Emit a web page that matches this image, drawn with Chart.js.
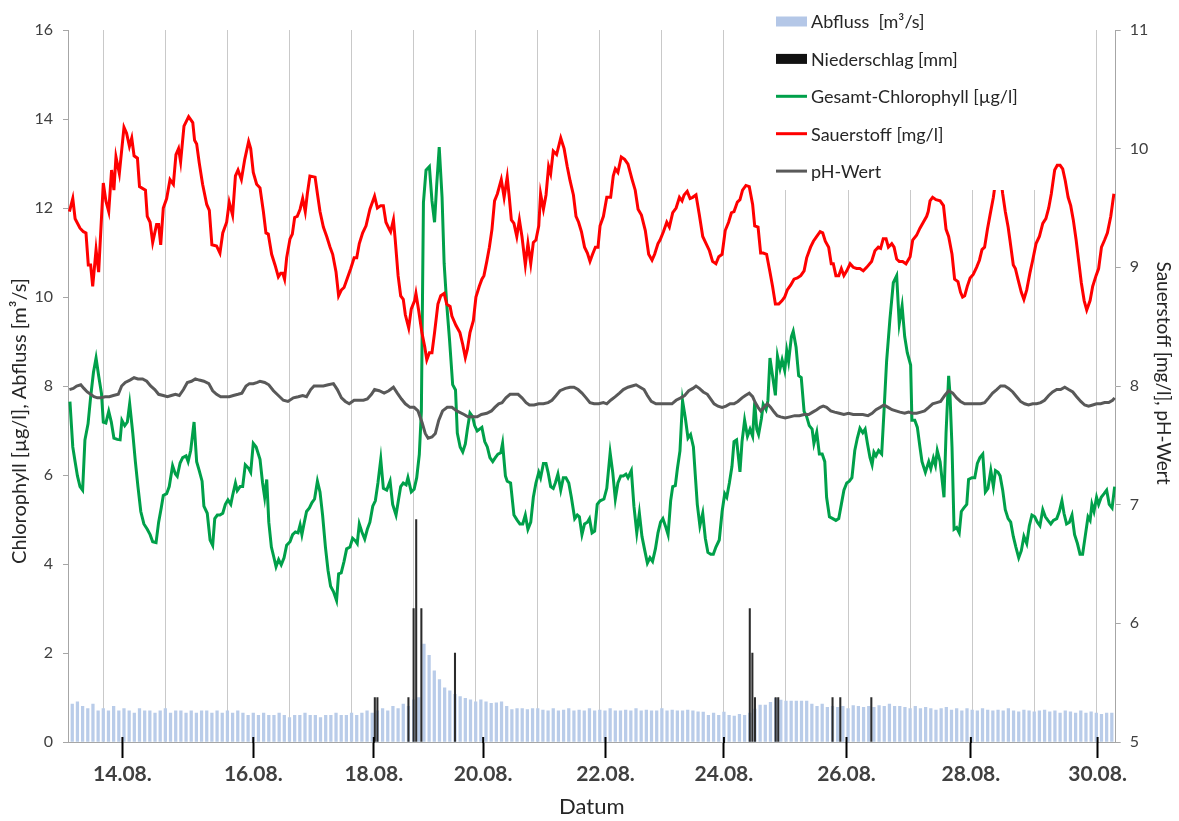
<!DOCTYPE html>
<html lang="de">
<head>
<meta charset="utf-8">
<title>Chlorophyll, Sauerstoff, pH</title>
<script src="https://cdn.jsdelivr.net/npm/chart.js@4.4.1/dist/chart.umd.min.js"></script>
<style>
  html, body { margin: 0; padding: 0; background: #fff; }
</style>
</head>
<body>
<canvas id="chemChart" width="1179" height="821"></canvas>
<script>
// --- Data (x = Stunden ab 13.08. 00:00) ---

const xMin = 10.35;
const xMax = 415.5;

const dateLabels = ['14.08.', '16.08.', '18.08.', '20.08.', '22.08.', '24.08.', '26.08.', '28.08.', '30.08.'];
const dateTicks = [31.4, 82.0, 128.6, 170.9, 218.2, 264.0, 311.4, 359.5, 408.5];
const dayLines = [24, 48, 72, 96, 120, 144, 168, 192, 216, 240, 264, 288, 312, 336, 360, 384, 408];

// Abfluss, every 2 hours from hour 12
const abflussFirstHour = 12;
const abflussStepHours = 2;
const abflussValues = [
  0.85,0.9,0.8,0.75,0.85,0.7,0.75,0.7,0.8,0.7,0.75,0.7,0.65,0.75,0.7,0.7,0.65,0.7,0.75,0.65,0.7,0.7,0.65,0.7,0.65,0.7,0.7,0.65,0.7,0.65,0.7,
  0.65,0.7,0.65,0.6,0.65,0.6,0.65,0.6,0.6,0.65,0.6,0.55,0.6,0.6,0.65,0.6,0.6,0.55,0.6,0.6,0.65,0.6,0.6,0.65,0.6,0.65,
  0.7,0.65,0.7,0.75,0.7,0.8,0.75,0.85,0.8,0.95,
  1.0,2.2,1.95,1.6,1.4,1.22,1.15,1.07,1.02,0.98,0.95,0.9,0.95,0.9,0.87,0.88,0.9,0.8,0.73,0.75,0.75,0.73,0.75,
  0.75,0.72,0.7,0.75,0.7,0.72,0.75,0.7,0.72,0.7,0.75,0.7,0.72,0.7,0.75,0.7,0.7,0.72,0.7,0.75,0.7,0.72,0.7,0.7,0.75,0.7,0.72,0.7,0.7,0.72,0.7,0.68,
  0.67,0.6,0.65,0.6,0.67,0.6,0.58,0.62,0.6,0.65,
  0.74,0.83,0.83,0.89,0.98,0.94,0.92,0.92,0.92,0.92,0.92,0.85,0.8,0.85,0.78,0.8,0.78,0.8,0.75,0.82,0.8,0.78,0.8,0.78,0.82,0.8,0.85,0.8,
  0.8,0.78,0.75,0.8,0.75,0.78,0.75,0.72,0.75,0.78,0.72,0.75,0.7,0.75,0.72,0.7,0.75,0.72,0.7,0.72,0.7,0.75,0.7,0.68,0.72,0.7,0.68,0.7,0.72,0.68,0.7,0.65,0.7,0.68,0.65,0.7,0.65,0.68,0.65,0.62,0.65,0.65
];

const niederHours = [129, 130, 142, 144, 145, 147, 160, 274, 275, 276, 284, 285, 306, 309, 321];
const niederValues = [1, 1, 1, 3, 5, 3, 2, 3, 2, 1, 1, 1, 1, 1, 1];

// [hour, value]
const chlPoints = [
  [11.1,7.65],[12.2,6.63],[13.1,6.30],[14.0,5.98],[15.0,5.74],[16.0,5.66],[16.9,6.79],[18.1,7.15],[19.1,7.75],[20.2,8.31],[21.2,8.63],[22.2,8.23],[23.3,7.83],[24.0,7.19],[25.0,7.17],[26.1,7.43],[27.1,7.19],[28.1,6.83],[29.4,6.80],[30.5,6.79],[31.2,7.23],[32.3,7.11],[33.3,7.19],[34.2,7.60],[35.4,6.94],[36.4,6.30],[37.4,5.74],[38.5,5.18],[39.7,4.90],[41.0,4.78],[42.1,4.66],[43.1,4.50],[44.4,4.48],[45.4,4.94],[46.4,5.26],[47.2,5.54],[48.5,5.58],[49.5,5.74],[50.8,6.21],[51.9,6.02],[52.6,5.97],[53.7,6.27],[54.7,6.39],[56.0,6.43],[56.8,6.30],[57.8,6.55],[59.1,7.19],[60.1,6.30],[61.1,6.10],[62.2,5.86],[62.9,5.30],[64.2,5.14],[65.3,4.54],[66.3,4.42],[67.1,5.02],[68.1,5.10],[69.1,5.10],[70.2,5.14],[71.2,5.34],[72.2,5.44],[73.3,5.34],[74.0,5.54],[75.1,5.82],[75.8,5.65],[76.9,5.74],[77.9,5.74],[78.9,6.23],[80.2,6.15],[81.0,6.06],[82.0,6.71],[83.1,6.63],
  [84.6,6.35],[85.6,5.82],[86.4,5.50],[87.2,5.90],[88.0,4.94],[89.0,4.38],[90.0,4.14],[90.8,3.94],[91.8,4.10],[92.8,3.98],[93.9,4.14],[94.9,4.42],[96.2,4.50],[97.2,4.66],[98.3,4.72],[99.3,4.70],[100.1,4.88],[100.8,4.66],[101.6,4.90],[102.6,5.18],[103.7,5.26],[104.7,5.38],[105.7,5.46],[106.8,5.86],[107.8,5.62],[108.8,5.10],[109.9,4.38],[110.9,3.86],[111.9,3.50],[113.0,3.38],[114.2,3.18],[115.0,3.78],[116.0,3.80],[117.1,4.06],[118.1,4.34],[119.4,4.38],[120.4,4.58],[121.5,4.52],[122.2,4.46],[123.0,4.90],[124.0,4.72],[125.1,4.56],[126.1,4.78],[127.1,4.94],[128.2,5.30],[129.2,5.42],[130.2,5.82],[131.3,6.35],[132.3,5.70],[133.6,5.66],[134.9,5.86],[135.9,5.34],[137.2,5.10],[138.2,5.46],[139.0,5.74],[140.0,5.82],[141.1,5.78],[141.8,5.94],[143.1,5.62],[144.2,5.68],[145.2,5.94],[146.2,6.46],[147.0,7.43],[147.8,12.12],[148.8,12.85],[150.1,12.93],[151.1,12.16],[152.1,11.68],[152.9,12.49],[153.9,13.37],[155.0,12.24],[155.8,10.76],[156.8,9.84],[157.9,9.03],[159.1,8.03],[160.2,7.91],[160.9,6.94],
  [162.0,6.63],[163.0,6.52],[164.0,6.70],[164.8,7.03],[165.8,7.39],[166.8,7.31],[167.6,7.11],[168.6,6.99],[170.4,7.07],[171.5,6.75],[172.5,6.63],[173.5,6.39],[174.6,6.30],[175.6,6.39],[176.6,6.47],[177.7,6.50],[178.4,6.71],[179.5,5.98],[180.2,5.86],[181.5,5.82],[182.8,5.10],[184.1,4.98],[185.1,4.90],[186.2,4.90],[187.2,5.10],[188.2,4.78],[189.3,4.94],[190.3,5.50],[191.3,5.82],[192.4,6.06],[193.1,5.94],[194.2,6.26],[195.2,6.26],[196.0,6.06],[197.0,5.74],[198.0,5.70],[198.8,5.82],[199.8,6.02],[200.9,5.66],[201.9,5.94],[202.9,5.94],[204.0,5.82],[205.0,5.50],[206.3,5.02],[207.3,5.10],[208.1,5.06],[209.1,4.66],[210.1,4.90],[211.2,4.94],[212.0,5.02],[213.0,4.70],[214.0,4.74],[215.0,5.34],[216.1,5.42],[217.6,5.46],[218.7,5.70],[220.0,6.50],[221.0,6.06],[222.0,5.46],[223.0,5.82],[224.1,5.98],[225.1,5.98],[226.1,6.02],[226.9,5.94],[228.2,6.10],[229.2,5.30],[230.3,4.70],[231.3,5.14],[232.3,4.62],[233.4,4.30],[234.4,4.02],[235.4,4.14],[236.4,4.06],[237.5,4.34],[238.5,4.70],
  [239.5,4.94],[240.4,5.02],[241.4,4.85],[242.4,4.66],[243.4,5.42],[244.2,5.74],[245.2,5.76],[246.0,6.14],[247.0,6.54],[248.0,7.67],[249.1,7.27],[250.1,6.83],[251.1,6.91],[252.2,6.63],[252.9,6.02],[253.7,5.34],[254.7,4.86],[255.8,5.14],[256.8,4.58],[257.8,4.26],[258.9,4.22],[259.9,4.22],[260.9,4.38],[262.2,4.54],[263.3,5.18],[264.3,5.58],[265.1,5.50],[266.1,5.82],[267.1,6.19],[267.9,6.75],[268.9,6.79],[270.2,6.07],[271.0,6.75],[272.0,7.23],[273.1,6.87],[274.1,7.03],[275.1,6.87],[275.9,7.63],[276.7,7.03],[277.4,6.91],[278.5,7.27],[279.2,7.59],[280.3,7.47],[281.0,7.67],[281.8,8.63],[282.8,8.23],[283.9,7.79],[284.7,8.67],[285.7,8.39],[286.5,8.59],[287.5,8.35],[288.3,8.79],[289.0,8.55],[290.1,9.11],[290.8,9.23],[291.9,8.87],[292.9,8.23],[293.9,8.19],[295.0,7.43],[296.0,7.31],[297.0,7.11],[298.1,7.03],[298.8,6.71],[299.9,6.96],[300.9,6.47],[302.0,6.47],[303.0,6.30],[303.7,5.50],[304.8,5.06],[306.1,5.02],[307.3,4.98],[308.4,5.02],[309.4,5.34],[310.4,5.66],[311.5,5.82],[312.5,5.86],[313.5,5.94],[314.6,6.55],[315.6,6.83],
  [316.6,7.05],[317.7,6.95],[318.6,7.03],[319.5,6.71],[320.5,6.39],[321.3,6.23],[322.0,6.51],[322.8,6.43],[323.8,6.55],[325.0,6.47],[325.9,7.43],[326.9,8.55],[328.2,9.51],[329.5,10.32],[330.8,10.48],[331.8,9.40],[332.9,9.80],[333.9,9.11],[334.9,8.75],[336.2,8.47],[336.7,7.23],[337.8,7.23],[338.8,7.07],[339.8,6.63],[340.6,6.30],[341.9,6.06],[343.2,6.30],[344.0,6.14],[345.0,6.38],[345.8,6.22],[346.5,6.55],[347.6,6.30],[349.1,5.50],[349.9,6.95],[350.9,8.23],[351.4,7.83],[352.2,6.63],[353.0,4.78],[354.0,4.82],[355.0,4.70],[355.8,5.18],[356.8,5.26],[357.9,5.34],[358.6,5.90],[359.9,5.94],[361.0,5.94],[362.0,6.26],[363.0,6.39],[364.1,6.47],[365.1,5.62],[366.1,5.70],[367.2,6.10],[368.2,5.74],[369.0,6.10],[370.0,6.06],[370.8,5.98],[371.8,5.66],[372.8,5.22],[373.9,5.02],[374.9,4.94],[375.9,4.62],[376.9,4.38],[378.0,4.14],[379.0,4.30],[380.0,4.62],[381.1,4.46],[382.1,4.86],[383.1,5.10],[384.2,5.06],[385.2,4.94],[386.2,4.86],[387.3,5.22],[388.3,5.06],[389.3,4.98],[390.4,4.90],[391.4,4.98],[392.7,5.02],[393.7,5.18],[394.7,5.42],[395.5,5.14],[396.5,4.90],[397.6,4.94],[398.6,5.10],[399.6,4.66],[400.7,4.46],[401.7,4.22],[402.7,4.22],[403.8,4.66],[404.8,5.06],[405.6,4.98],[406.3,5.34],[407.1,5.18],[408.1,5.50],[408.9,5.34],[409.9,5.50],[411.0,5.58],[412.0,5.66],[413.0,5.34],[414.1,5.26],[415.1,5.74]
];

const o2Points = [
  [10.9,9.47],[12.2,9.58],[13.1,9.41],[15.0,9.33],[16.3,9.30],[17.3,9.29],[18.2,9.02],[19.1,9.02],[19.9,8.84],[21.2,9.15],[22.2,8.96],[24.0,9.71],[25.0,9.56],[26.1,9.47],[27.2,9.82],[28.1,9.65],[28.9,9.93],[30.2,9.79],[32.0,10.18],[33.0,10.13],[34.1,10.02],[35.0,10.09],[35.9,9.94],[37.2,9.92],[38.0,9.68],[40.3,9.65],[41.0,9.43],[42.1,9.38],[43.1,9.21],[44.6,9.36],[45.4,9.36],[46.2,9.19],[47.2,9.50],[48.5,9.58],[49.8,9.74],[51.1,9.70],[52.1,9.95],[53.1,10.0],[53.9,9.89],[55.2,10.19],[57.0,10.27],[58.6,10.22],[59.3,10.07],[60.1,10.04],[61.1,9.88],[62.4,9.70],[64.0,9.53],[65.0,9.48],[66.0,9.19],[67.8,9.18],[69.1,9.12],[70.2,9.29],[71.7,9.38],[72.7,9.55],[74.0,9.44],[75.1,9.77],[76.1,9.82],[77.4,9.74],[78.7,9.91],[80.2,10.06],[81.0,10.0],[82.0,9.80],[83.3,9.70],
  [84.6,9.67],[85.9,9.47],[86.9,9.29],[87.8,9.28],[89.1,9.11],[90.4,9.02],[91.7,8.92],[92.6,8.95],[93.4,8.95],[94.1,8.90],[94.9,9.08],[96.2,9.24],[97.1,9.28],[98.0,9.42],[99.0,9.43],[100.1,9.49],[101.1,9.58],[102.1,9.47],[102.9,9.62],[103.9,9.77],[105.9,9.76],[106.8,9.62],[107.8,9.47],[109.1,9.34],[110.4,9.26],[111.7,9.17],[112.7,9.11],[114.0,8.96],[115.0,8.76],[116.1,8.81],[117.1,8.83],[118.4,8.91],[119.7,8.99],[121.0,9.08],[122.0,9.08],[123.0,9.20],[124.3,9.29],[125.6,9.35],[127.1,9.49],[128.9,9.60],[130.0,9.50],[131.3,9.52],[132.3,9.52],[133.3,9.38],[134.6,9.32],[135.1,9.30],[136.2,9.40],[136.9,9.23],[138.0,8.93],[139.0,8.76],[140.0,8.73],[140.8,8.60],[142.1,8.49],[143.1,8.65],[144.4,8.72],[144.9,8.78],[146.0,8.63],[147.2,8.45],[148.3,8.33],[149.1,8.22],[150.1,8.28],[151.1,8.28],[152.1,8.45],[153.4,8.69],[154.5,8.76],[155.8,8.78],[156.8,8.69],[158.1,8.67],[158.8,8.59],[160.4,8.51],
  [161.9,8.45],[163.0,8.35],[164.0,8.24],[164.8,8.31],[165.8,8.45],[167.1,8.55],[168.1,8.75],[169.4,8.84],[170.4,8.90],[171.2,8.93],[172.3,9.05],[173.3,9.17],[174.3,9.32],[175.3,9.56],[176.4,9.62],[177.9,9.74],[179.0,9.59],[180.2,9.76],[181.0,9.59],[181.8,9.40],[182.8,9.37],[183.9,9.26],[184.9,9.40],[185.9,9.26],[187.2,9.02],[188.2,9.20],[189.3,9.03],[190.3,9.21],[191.3,9.23],[192.4,9.35],[193.1,9.62],[194.2,9.49],[195.2,9.61],[196.2,9.85],[197.0,9.79],[198.0,9.98],[199.3,9.95],[200.9,10.09],[202.2,10.0],[203.4,9.85],[204.5,9.73],[205.8,9.61],[206.8,9.43],[207.8,9.38],[208.9,9.30],[210.1,9.17],[211.2,9.12],[212.2,9.05],[213.2,9.11],[214.3,9.17],[215.3,9.17],[216.1,9.35],[217.4,9.43],[218.7,9.59],[220.2,9.59],[221.2,9.77],[222.0,9.83],[223.0,9.80],[224.3,9.93],[225.6,9.91],[226.9,9.87],[228.5,9.74],[229.7,9.65],[230.8,9.49],[232.1,9.44],[233.6,9.31],[234.9,9.11],[236.2,9.06],[237.2,9.11],[238.5,9.20],
  [239.3,9.23],[240.6,9.30],[241.9,9.38],[242.9,9.34],[244.2,9.46],[245.5,9.50],[246.8,9.59],[247.8,9.56],[248.6,9.61],[249.8,9.64],[250.9,9.58],[251.9,9.59],[253.2,9.61],[254.5,9.44],[255.8,9.26],[257.1,9.20],[258.4,9.14],[259.6,9.05],[260.9,9.03],[262.0,9.09],[263.3,9.11],[264.5,9.31],[265.8,9.38],[266.9,9.46],[267.9,9.47],[269.2,9.55],[270.2,9.57],[271.2,9.65],[272.5,9.69],[273.8,9.68],[275.1,9.53],[275.9,9.35],[277.2,9.34],[278.2,9.12],[279.2,9.12],[280.5,9.11],[281.8,8.96],[282.8,8.84],[283.9,8.69],[285.2,8.69],[286.5,8.72],[287.5,8.75],[288.5,8.81],[289.8,8.85],[291.1,8.90],[292.4,8.91],[293.7,8.93],[295.0,8.97],[296.0,9.08],[297.5,9.17],[298.6,9.22],[299.9,9.26],[301.2,9.30],[302.2,9.29],[303.2,9.22],[304.5,9.17],[305.5,9.03],[306.3,9.03],[307.3,8.93],[308.4,8.93],[309.4,8.99],[310.4,8.93],[311.5,8.97],[312.8,9.03],[314.0,9.00],[315.3,8.99],
  [316.6,8.99],[317.9,8.97],[319.2,9.00],[321.1,9.05],[322.4,9.14],[323.7,9.17],[324.6,9.16],[325.6,9.24],[326.7,9.24],[327.6,9.17],[328.9,9.20],[329.8,9.17],[330.8,9.07],[331.8,9.05],[333.1,9.05],[334.4,9.03],[336.0,9.09],[337.0,9.23],[338.5,9.27],[339.8,9.33],[341.1,9.38],[342.4,9.43],[343.0,9.47],[343.7,9.56],[344.7,9.59],[346.0,9.57],[347.6,9.56],[348.9,9.52],[349.9,9.32],[350.9,9.26],[352.2,9.11],[353.2,8.90],[354.5,8.88],[355.5,8.79],[356.3,8.75],[357.1,8.76],[358.1,8.84],[359.2,8.91],[360.4,8.94],[361.7,9.00],[362.8,9.06],[363.8,9.15],[364.8,9.17],[365.9,9.32],[366.9,9.44],[368.2,9.59],[369.5,9.80],[370.8,9.80],[371.8,9.62],[372.8,9.47],[373.9,9.34],[374.6,9.23],[375.9,9.02],[376.7,8.99],[377.7,8.90],[379.0,8.79],[380.0,8.73],[381.1,8.81],[382.4,8.96],[383.4,9.06],[384.7,9.20],[386.0,9.26],[387.3,9.37],[388.5,9.41],[389.6,9.50],[390.6,9.62],[391.9,9.82],[392.9,9.86],[394.0,9.86],[395.0,9.83],[396.0,9.73],[397.1,9.59],[398.1,9.52],[399.1,9.40],[400.2,9.23],[401.2,9.05],[402.2,8.87],[403.3,8.72],[404.3,8.64],[405.6,8.72],[406.6,8.84],[407.9,8.93],[408.9,8.99],[410.0,9.17],[411.2,9.23],[412.3,9.29],[413.6,9.43],[414.8,9.62]
];

const phPoints = [
  [10.9,7.97],[12.4,7.98],[13.7,8.00],[15.3,8.01],[16.5,7.98],[17.8,7.95],[19.1,7.93],[20.4,7.91],[21.7,7.90],[23.0,7.90],[24.7,7.91],[26.3,7.91],[27.9,7.92],[29.8,7.93],[31.1,8.00],[32.5,8.03],[34.3,8.05],[35.9,8.07],[37.4,8.06],[39.2,8.06],[40.8,8.04],[42.3,8.00],[43.9,7.97],[45.4,7.93],[47.2,7.92],[48.8,7.91],[50.3,7.92],[51.9,7.93],[53.4,7.92],[55.0,7.97],[56.5,8.03],[58.1,8.04],[59.6,8.06],[61.1,8.05],[62.9,8.04],[64.8,8.02],[66.3,7.96],[67.8,7.93],[69.4,7.91],[70.9,7.91],[72.7,7.91],[74.3,7.92],[76.1,7.93],[77.6,7.94],[79.2,8.00],[80.5,8.02],[82.0,8.02],[83.6,8.03],
  [84.6,8.04],[86.4,8.03],[88.0,8.01],[89.8,7.96],[91.7,7.92],[93.6,7.88],[95.4,7.87],[97.5,7.90],[99.4,7.91],[101.1,7.92],[102.6,7.91],[104.2,7.97],[105.5,8.00],[107.3,8.00],[109.1,8.00],[111.0,8.01],[113.0,8.02],[114.5,7.97],[116.1,7.90],[117.6,7.87],[119.1,7.85],[121.0,7.88],[122.8,7.88],[124.6,7.88],[126.1,7.89],[127.7,7.93],[128.9,7.97],[130.7,7.96],[132.6,7.94],[134.4,7.96],[136.2,7.99],[137.7,7.94],[139.3,7.89],[140.8,7.85],[142.6,7.82],[144.2,7.82],[145.7,7.79],[147.3,7.69],[148.5,7.60],[149.6,7.56],[151.1,7.57],[152.4,7.60],[153.7,7.71],[155.2,7.79],[157.0,7.82],[158.8,7.82],[160.7,7.79],
  [163.5,7.76],[165.0,7.74],[166.8,7.74],[168.6,7.74],[170.2,7.76],[172.3,7.77],[174.1,7.79],[175.4,7.82],[176.9,7.85],[178.2,7.86],[179.7,7.90],[181.3,7.93],[182.8,7.93],[184.4,7.93],[185.9,7.90],[187.5,7.86],[188.8,7.84],[190.6,7.84],[192.4,7.85],[194.2,7.85],[196.0,7.86],[197.5,7.88],[199.1,7.92],[200.6,7.96],[202.7,7.98],[204.5,7.99],[206.0,7.99],[207.6,7.97],[209.1,7.94],[210.7,7.90],[212.2,7.86],[213.8,7.85],[215.6,7.85],[217.4,7.86],[218.7,7.85],[220.2,7.88],[222.0,7.91],[223.6,7.94],[225.1,7.97],[226.9,7.99],[228.5,8.00],[230.0,8.01],[231.6,7.99],[233.1,7.97],[234.4,7.92],[235.9,7.87],[237.7,7.85],
  [239.3,7.85],[240.8,7.85],[242.4,7.85],[243.9,7.85],[245.5,7.88],[247.3,7.90],[248.8,7.92],[250.4,7.96],[252.0,7.98],[253.2,8.00],[254.5,7.98],[256.0,7.95],[257.6,7.93],[258.9,7.89],[260.2,7.85],[261.7,7.83],[263.3,7.82],[264.8,7.83],[266.4,7.85],[267.9,7.85],[269.4,7.87],[271.0,7.90],[272.3,7.92],[273.8,7.94],[275.1,7.91],[276.1,7.86],[277.2,7.82],[278.2,7.79],[279.5,7.82],[280.8,7.85],[282.1,7.82],[283.4,7.78],[284.6,7.75],[285.9,7.74],[287.7,7.73],[289.5,7.74],[291.4,7.75],[293.2,7.75],[295.0,7.76],[296.8,7.76],[298.3,7.78],[299.9,7.80],[301.2,7.82],[302.4,7.83],[303.7,7.82],[305.3,7.79],[306.8,7.78],[308.6,7.77],[310.4,7.76],[312.2,7.77],[314.0,7.76],[315.8,7.76],
  [317.7,7.76],[319.7,7.75],[321.3,7.77],[322.8,7.80],[324.4,7.82],[325.9,7.84],[327.5,7.82],[329.0,7.80],[330.5,7.79],[332.1,7.78],[333.9,7.77],[335.4,7.78],[337.0,7.77],[338.5,7.77],[340.1,7.78],[341.6,7.79],[343.2,7.82],[344.7,7.85],[346.3,7.86],[347.8,7.87],[349.4,7.92],[350.9,7.96],[352.5,7.94],[354.0,7.90],[355.5,7.87],[357.1,7.85],[358.6,7.85],[360.2,7.85],[361.7,7.85],[363.3,7.85],[364.8,7.86],[366.4,7.90],[367.9,7.94],[369.5,7.97],[371.0,8.00],[372.6,8.00],[374.1,7.98],[375.7,7.95],[377.2,7.91],[378.7,7.87],[380.3,7.85],[381.8,7.84],[383.4,7.85],[384.9,7.85],[386.5,7.86],[388.0,7.88],[389.6,7.92],[391.1,7.95],[392.7,7.97],[394.2,7.97],[395.8,7.99],[397.3,7.97],[398.9,7.95],[400.4,7.91],[402.0,7.87],[403.5,7.84],[405.0,7.83],[406.6,7.84],[408.1,7.85],[409.7,7.85],[411.2,7.86],[412.8,7.86],[414.3,7.88],[415.1,7.90]
];

// --- Chart ---

Chart.defaults.font.family = 'Lato';

const toXY = pts => pts.map(p => ({ x: p[0], y: p[1] }));
const abflussData = abflussValues.map((v, i) => ({ x: abflussFirstHour + i * abflussStepHours, y: v }));
const niederData = niederHours.map((h, i) => ({ x: h, y: niederValues[i] }));

// legend in the upper right, white box over the plot like in the original
const legendBox = {
    id: 'legendBox',
    afterDatasetsDraw(chart) {
        const ctx = chart.ctx;
        ctx.save();
        ctx.fillStyle = '#fff';
        ctx.fillRect(768, 0, 278, 190);
        ctx.font = '18px Lato';
        ctx.textBaseline = 'middle';
        chart.data.datasets.forEach((ds, i) => {
            const y = 21.5 + i * 37.4;
            if (ds.type === 'bar') {
                ctx.fillStyle = ds.legendColor || ds.backgroundColor;
                ctx.fillRect(776, y - 5, 31, 10);
            } else {
                ctx.strokeStyle = ds.borderColor;
                ctx.lineWidth = 3;
                ctx.beginPath();
                ctx.moveTo(776, y);
                ctx.lineTo(807, y);
                ctx.stroke();
            }
            ctx.fillStyle = '#262626';
            ctx.fillText(ds.label, 811, y + 1);
        });
        ctx.restore();
    }
};

// axis titles (placed like the original, not centred on the axis)
const axisTitles = {
    id: 'axisTitles',
    afterDraw(chart) {
        const ctx = chart.ctx;
        ctx.save();
        ctx.fillStyle = '#262626';
        ctx.textAlign = 'center';
        ctx.textBaseline = 'middle';

        ctx.save();
        ctx.translate(20, 421);
        ctx.rotate(-Math.PI / 2);
        ctx.font = '20px Lato';
        ctx.fillText('Chlorophyll [µg/l], Abfluss [m³/s]', 0, 0);
        ctx.restore();

        ctx.save();
        ctx.translate(1163, 373);
        ctx.rotate(Math.PI / 2);
        ctx.font = '19px Lato';
        ctx.fillText('Sauerstoff [mg/l], pH-Wert', 0, 0);
        ctx.restore();

        // date tick marks reach a little above the axis line
        const sx = chart.scales.dates;
        ctx.strokeStyle = '#000';
        ctx.lineWidth = 2;
        sx.ticks.forEach(t => {
            const px = sx.getPixelForValue(t.value);
            ctx.beginPath();
            ctx.moveTo(px, sx.top - 5);
            ctx.lineTo(px, sx.top + 1);
            ctx.stroke();
        });
        ctx.restore();
    }
};

const chemChart = new Chart(document.getElementById('chemChart'), {
    type: 'line',
    data: {
        datasets: [
            {
                type: 'bar',
                label: 'Abfluss  [m³/s]',
                data: abflussData,
                backgroundColor: '#b9cce9',
                legendColor: '#b4c7e7',
                barThickness: 2.6,
                grouped: false,
                yAxisID: 'yL',
                order: 5
            },
            {
                type: 'bar',
                label: 'Niederschlag [mm]',
                data: niederData,
                backgroundColor: '#2b2b2b',
                legendColor: '#111',
                barThickness: 1.4,
                grouped: false,
                yAxisID: 'yL',
                order: 4
            },
            {
                type: 'line',
                label: 'Gesamt-Chlorophyll [µg/l]',
                data: toXY(chlPoints),
                borderColor: '#00a04a',
                borderWidth: 3,
                pointRadius: 0,
                tension: 0,
                yAxisID: 'yL',
                order: 3
            },
            {
                type: 'line',
                label: 'Sauerstoff [mg/l]',
                data: toXY(o2Points),
                borderColor: '#ff0000',
                borderWidth: 3,
                pointRadius: 0,
                tension: 0,
                yAxisID: 'yR',
                order: 2
            },
            {
                type: 'line',
                label: 'pH-Wert',
                data: toXY(phPoints),
                borderColor: '#595959',
                borderWidth: 3,
                pointRadius: 0,
                tension: 0,
                yAxisID: 'yR',
                order: 1
            }
        ]
    },
    options: {
        responsive: false,
        animation: false,
        layout: { padding: { top: 30, left: 0, right: 0, bottom: 0 } },
        plugins: {
            legend: { display: false },
            tooltip: { enabled: false }
        },
        scales: {
            x: {
                type: 'linear',
                position: 'bottom',
                min: xMin,
                max: xMax,
                offset: false,
                afterBuildTicks: s => { s.ticks = dayLines.map(v => ({ value: v })); },
                ticks: { display: false },
                grid: { color: '#c9c9c9', lineWidth: 1, drawTicks: false, offset: false },
                border: { display: false },
                afterFit: s => { s.height = 0; }
            },
            dates: {
                type: 'linear',
                position: 'bottom',
                min: xMin,
                max: xMax,
                offset: false,
                afterBuildTicks: s => { s.ticks = dateTicks.map(v => ({ value: v })); },
                ticks: {
                    autoSkip: false,
                    maxRotation: 0,
                    padding: 4,
                    color: '#404040',
                    font: { size: 21, weight: 'bold' },
                    callback: (v, i) => dateLabels[i]
                },
                grid: { drawOnChartArea: false, offset: false, tickLength: 16, tickWidth: 2, tickColor: '#000' },
                border: { color: '#a6a6a6', width: 1 },
                title: {
                    display: true,
                    text: 'Datum',
                    color: '#262626',
                    font: { size: 22 },
                    padding: { top: 0, bottom: 1 }
                },
                afterFit: s => { s.height = 79; }
            },
            yL: {
                type: 'linear',
                position: 'left',
                min: 0,
                max: 16,
                ticks: { stepSize: 2, padding: 10, color: '#404040', font: { size: 16 } },
                grid: { drawOnChartArea: false, tickLength: 5, color: '#a6a6a6' },
                border: { color: '#a6a6a6' },
                afterFit: s => { s.width = 68; }
            },
            yR: {
                type: 'linear',
                position: 'right',
                min: 5,
                max: 11,
                ticks: { stepSize: 1, padding: 9, color: '#404040', font: { size: 16 } },
                grid: { drawOnChartArea: false, tickLength: 5, color: '#a6a6a6' },
                border: { color: '#a6a6a6' },
                afterFit: s => { s.width = 63.3; }
            }
        }
    },
    plugins: [legendBox, axisTitles]
});
</script>
</body>
</html>
